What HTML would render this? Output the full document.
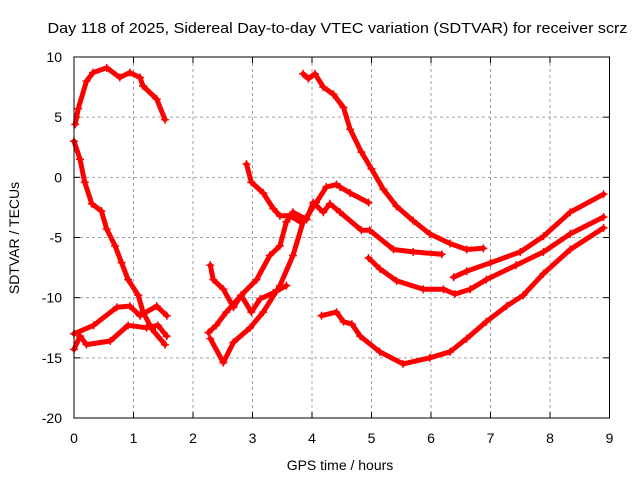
<!DOCTYPE html>
<html><head><meta charset="utf-8"><style>
html,body{margin:0;padding:0;background:#fff;}
svg{display:block;font-family:"Liberation Sans",sans-serif;}
</style></head><body>
<svg id="chart" width="640" height="480">
<text x="337.5" y="33" font-size="15" text-anchor="middle" textLength="580" lengthAdjust="spacingAndGlyphs" fill="#000">Day 118 of 2025, Sidereal Day-to-day VTEC variation (SDTVAR) for receiver scrz</text>
<text x="340" y="470" font-size="14" text-anchor="middle" fill="#000">GPS time / hours</text>
<text transform="translate(19,238) rotate(-90)" font-size="14" text-anchor="middle" fill="#000">SDTVAR / TECUs</text>
<g id="grid"></g>
<g id="series"></g>
<rect x="74" y="57" width="535.5" height="361" fill="none" stroke="#000" stroke-width="1"/>
</svg>
<script>
const xTicks=[0,1,2,3,4,5,6,7,8,9];
const yTicks=[10,5,0,-5,-10,-15,-20];
const curveA=[[0.02,4.4],[0.07,5.7],[0.21,8.0],[0.32,8.7],[0.55,9.1],[0.77,8.3],[0.94,8.7],[1.11,8.3],[1.16,7.6],[1.39,6.5],[1.53,4.8]];
const curveB=[[0,3.0],[0.1,1.5],[0.18,-0.4],[0.3,-2.2],[0.46,-2.8],[0.55,-4.3],[0.69,-5.7],[0.8,-7.1],[0.91,-8.5],[1.08,-9.8],[1.16,-11.2],[1.31,-12.6],[1.53,-13.9]];
const curveC=[[0,-13.0],[0.33,-12.3],[0.72,-10.8],[0.94,-10.7],[1.11,-11.5],[1.39,-10.7],[1.56,-11.5]];
const curveD=[[0,-14.3],[0.1,-13.2],[0.21,-13.9],[0.61,-13.6],[0.91,-12.3],[1.22,-12.5],[1.41,-12.3],[1.56,-13.2]];
const curveE=[[2.9,1.1],[2.98,-0.4],[3.18,-1.3],[3.35,-2.6],[3.46,-3.2],[3.63,-3.2],[3.8,-3.7]];
const curveF=[[2.29,-7.3],[2.34,-8.5],[2.51,-9.3],[2.68,-10.8],[2.81,-9.8],[2.98,-11.2],[3.13,-10.1],[3.35,-9.6],[3.57,-9.0]];
const curveG=[[2.26,-12.9],[2.39,-12.3],[2.56,-11.2],[2.81,-9.8],[3.07,-8.5],[3.29,-6.5],[3.46,-5.7],[3.57,-3.7],[3.68,-2.9],[3.91,-3.5],[4.02,-2.1],[4.19,-2.9],[4.3,-2.2],[4.47,-2.9],[4.83,-4.4],[4.97,-4.4],[5.37,-6.0],[5.7,-6.2],[6.18,-6.4]];
const curveH=[[2.29,-13.4],[2.51,-15.4],[2.68,-13.7],[2.96,-12.5],[3.18,-11.2],[3.46,-9.0],[3.68,-6.5],[3.85,-3.7],[4.07,-2.1],[4.24,-0.8],[4.41,-0.6],[4.47,-0.8],[4.64,-1.3],[4.95,-2.1]];
const curveI=[[3.85,8.6],[3.94,8.2],[4.05,8.6],[4.19,7.5],[4.36,6.9],[4.53,5.8],[4.64,4.0],[4.83,2.1],[5.0,0.7],[5.2,-1.0],[5.42,-2.4],[5.7,-3.6],[5.98,-4.7],[6.32,-5.5],[6.6,-6.0],[6.88,-5.9]];
const curveJ=[[4.95,-6.7],[5.14,-7.6],[5.42,-8.6],[5.87,-9.3],[6.21,-9.3],[6.4,-9.7],[6.66,-9.3],[6.93,-8.5],[7.43,-7.3],[7.89,-6.2],[8.34,-4.7],[8.9,-3.3]];
const curveK=[[6.38,-8.3],[6.6,-7.8],[7.0,-7.1],[7.5,-6.2],[7.89,-4.9],[8.34,-2.9],[8.9,-1.4]];
const curveL=[[4.16,-11.5],[4.41,-11.2],[4.53,-12.0],[4.67,-12.2],[4.81,-13.2],[5.14,-14.5],[5.53,-15.5],[5.98,-15.0],[6.32,-14.5],[6.6,-13.4],[6.93,-12.0],[7.27,-10.7],[7.55,-9.8],[7.89,-8.0],[8.34,-6.0],[8.9,-4.2]];
const curves=[curveA,curveB,curveC,curveD,curveE,curveF,curveG,curveH,curveI,curveJ,curveK,curveL];
const NS='http://www.w3.org/2000/svg';
const X0=74,X1=609.5,Y0=418,Y1=57,XMIN=0,XMAX=9,YMIN=-20,YMAX=10;
function xs(v){return X0+(v-XMIN)/(XMAX-XMIN)*(X1-X0);}
function ys(v){return Y0-(v-YMIN)/(YMAX-YMIN)*(Y0-Y1);}
const grid=document.getElementById('grid');
function mk(tag,attrs,parent){const e=document.createElementNS(NS,tag);for(const k in attrs)e.setAttribute(k,attrs[k]);parent.appendChild(e);return e;}
xTicks.forEach(t=>{
  const x=xs(t);
  if(t>XMIN&&t<XMAX){const g=mk('line',{x1:x,x2:x,y1:Y1,y2:Y0,stroke:'#a0a0a0','stroke-dasharray':'3,3','stroke-width':1},grid);
  
  }
  const tk=mk('line',{x1:x,x2:x,y1:Y0,y2:Y0-6,stroke:'#000'},grid);
  
  
  const tk2=mk('line',{x1:x,x2:x,y1:Y1,y2:Y1+6,stroke:'#000'},grid);
  
  
  const l=mk('text',{x:x,y:443,'font-size':14,'text-anchor':'middle',fill:'#000'},grid);l.textContent=t;
  
  
});
yTicks.forEach(t=>{
  const y=ys(t);
  if(t>YMIN&&t<YMAX){const g=mk('line',{x1:X0,x2:X1,y1:y,y2:y,stroke:'#a0a0a0','stroke-dasharray':'3,3','stroke-width':1},grid);
  
  }
  const tk=mk('line',{x1:X0,x2:X0+6,y1:y,y2:y,stroke:'#000'},grid);
  
  
  const tk2=mk('line',{x1:X1,x2:X1-6,y1:y,y2:y,stroke:'#000'},grid);
  
  
  const l=mk('text',{x:62,y:y+5,'font-size':14,'text-anchor':'end',fill:'#000'},grid);l.textContent=t;
  
  
});
const sg=document.getElementById('series');
curves.forEach((c,i)=>{
  const pts=c.map(p=>xs(p[0]).toFixed(1)+','+ys(p[1]).toFixed(1)).join(' ');
  const pl=mk('polyline',{points:pts,fill:'none',stroke:'#ff0000','stroke-width':5,'stroke-linejoin':'round','stroke-linecap':'round'},sg);
  
  
  c.forEach(p=>{
    const x=xs(p[0]),y=ys(p[1]);
    const m=mk('path',{d:`M${x-4},${y}H${x+4}M${x},${y-4}V${y+4}`,stroke:'#ff0000','stroke-width':1.5},sg);
    
    
  });
});
</script>
</body></html>
